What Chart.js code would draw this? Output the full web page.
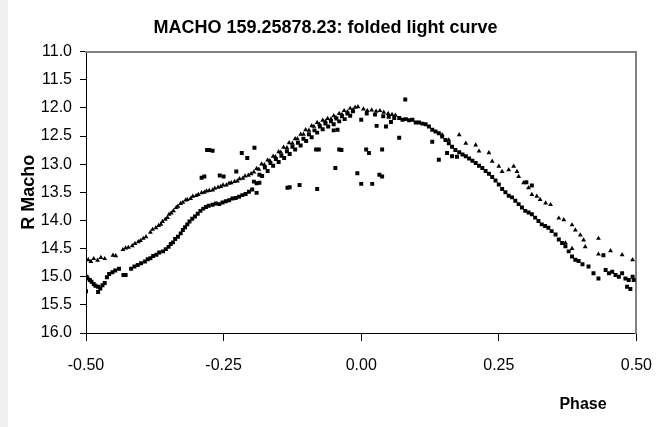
<!DOCTYPE html>
<html>
<head>
<meta charset="utf-8">
<script src="https://cdn.jsdelivr.net/npm/chart.js@4"></script>
<style>
  html, body { margin: 0; padding: 0; background: #fff; }
  #wrap { position: relative; width: 667px; height: 427px; }
  #strip { position: absolute; left: 0; top: 0; width: 8px; height: 427px; background: #f0f0f0; }
  #lc { position: absolute; left: 0; top: 0; }
</style>
</head>
<body>
<div id="wrap">
  <div id="strip"></div>
  <canvas id="lc" width="667" height="427"></canvas>
</div>
<script>
// folded light curve (phase, R mag)
// brighter track (triangles)
const phaseA = [
  -0.496,-0.491,-0.486,-0.479,-0.473,-0.466,-0.451,-0.446,-0.433,-0.428,
  -0.423,-0.416,-0.411,-0.405,-0.401,-0.396,-0.391,-0.383,-0.379,-0.373,
  -0.368,-0.364,-0.361,-0.356,-0.352,-0.349,-0.345,-0.341,-0.336,-0.333,
  -0.328,-0.324,-0.319,-0.316,-0.310,-0.306,-0.300,-0.296,-0.290,-0.285,
  -0.281,-0.276,-0.270,-0.266,-0.260,-0.255,-0.251,-0.245,-0.240,-0.236,
  -0.230,-0.225,-0.221,-0.215,-0.211,-0.205,-0.200,-0.195,-0.190,-0.186,
  -0.181,-0.176,-0.170,-0.166,-0.160,-0.156,-0.150,-0.146,-0.141,-0.135,
  -0.131,-0.125,-0.120,-0.116,-0.110,-0.105,-0.101,-0.095,-0.090,-0.086,
  -0.080,-0.076,-0.070,-0.065,-0.061,-0.055,-0.050,-0.046,-0.040,-0.035,
  -0.031,-0.025,-0.020,-0.015,-0.011,-0.006, 0.004, 0.011, 0.019, 0.027,
   0.034, 0.041, 0.049, 0.056, 0.062, 0.147, 0.159, 0.178, 0.190, 0.208,
   0.214, 0.232, 0.238, 0.250, 0.256, 0.268, 0.277, 0.283, 0.286, 0.295,
   0.304, 0.310, 0.319, 0.325, 0.335, 0.344, 0.359, 0.368, 0.383, 0.389,
   0.398, 0.404, 0.407, 0.431, 0.431, 0.453, 0.474, 0.493, 0.383, 0.371
];
const magA = [
  14.70,14.73,14.68,14.71,14.66,14.68,14.62,14.63,14.52,14.49,
  14.48,14.45,14.41,14.38,14.36,14.32,14.29,14.21,14.16,14.13,
  14.09,14.07,14.02,13.98,13.95,13.89,13.87,13.83,13.77,13.75,
  13.70,13.68,13.64,13.63,13.61,13.57,13.56,13.54,13.51,13.50,
  13.48,13.47,13.46,13.43,13.41,13.40,13.37,13.37,13.34,13.33,
  13.31,13.30,13.26,13.25,13.21,13.20,13.17,13.14,13.08,13.09,
  13.00,13.01,12.93,12.94,12.86,12.87,12.78,12.79,12.70,12.71,
  12.62,12.63,12.55,12.55,12.47,12.47,12.39,12.40,12.32,12.33,
  12.26,12.29,12.22,12.24,12.19,12.20,12.14,12.17,12.10,12.12,
  12.05,12.07,12.01,12.04,11.99,11.98,12.02,12.05,12.04,12.06,
  12.05,12.08,12.10,12.12,12.13,12.48,12.57,12.48,12.63,12.66,
  12.77,12.80,12.95,13.04,13.13,13.10,13.04,13.13,13.22,13.33,
  13.42,13.54,13.57,13.63,13.69,13.72,13.96,13.99,14.08,14.17,
  14.26,14.35,14.47,14.32,14.60,14.54,14.61,14.70,14.50,14.40
];

// fainter track (squares)
const phaseB = [
  -0.499,-0.497,-0.493,-0.490,-0.486,-0.483,-0.478,-0.474,-0.470,-0.466,
  -0.500,-0.478,-0.462,-0.458,-0.452,-0.447,-0.440,-0.432,-0.428,-0.418,
  -0.412,-0.406,-0.400,-0.393,-0.388,-0.383,-0.378,-0.372,-0.367,-0.360,
  -0.355,-0.350,-0.346,-0.342,-0.338,-0.333,-0.328,-0.324,-0.320,-0.316,
  -0.312,-0.307,-0.302,-0.297,-0.292,-0.287,-0.282,-0.277,-0.270,-0.264,
  -0.258,-0.252,-0.246,-0.240,-0.234,-0.228,-0.222,-0.216,-0.210,-0.204,
  -0.198,-0.195,-0.190,-0.185,-0.180,-0.175,-0.170,-0.165,-0.160,-0.155,
  -0.150,-0.145,-0.140,-0.135,-0.130,-0.125,-0.120,-0.115,-0.110,-0.105,
  -0.100,-0.095,-0.090,-0.085,-0.080,-0.075,-0.070,-0.065,-0.060,-0.055,
  -0.050,-0.045,-0.040,-0.035,-0.030,-0.025,-0.020,-0.015, 0.010, 0.025,
   0.040, 0.050, 0.060, 0.069, 0.075, 0.081, 0.087, 0.093, 0.099, 0.105,
   0.111, 0.117, 0.123, 0.129, 0.135, 0.141, 0.147, 0.153, 0.159, 0.165,
   0.171, 0.178, 0.184, 0.190, 0.196, 0.202, 0.208, 0.214, 0.220, 0.226,
   0.232, 0.238, 0.244, 0.250, 0.256, 0.262, 0.268, 0.274, 0.280, 0.286,
   0.292, 0.298, 0.304, 0.310, 0.316, 0.322, 0.328, 0.334, 0.340, 0.346,
   0.353, 0.359, 0.365, 0.371, 0.377, 0.383, 0.389, 0.413, 0.422, 0.431,
   0.444, 0.450, 0.456, 0.462, 0.468, 0.474, 0.480, 0.486, 0.493, 0.483,
   0.489, 0.495, 0.156, 0.165, 0.174, 0.300, 0.310, 0.395, 0.402, 0.440
];
const magB = [
  15.00,15.03,15.06,15.09,15.13,15.16,15.18,15.21,15.15,15.11,
  15.26,15.27,15.01,14.95,14.92,14.89,14.86,14.97,14.97,14.86,
  14.82,14.79,14.76,14.73,14.69,14.67,14.63,14.61,14.57,14.55,
  14.51,14.47,14.42,14.39,14.33,14.29,14.23,14.17,14.12,14.07,
  14.02,13.97,13.93,13.88,13.83,13.79,13.76,13.74,13.72,13.70,
  13.71,13.68,13.66,13.64,13.61,13.60,13.58,13.55,13.53,13.49,
  13.45,13.31,13.34,13.19,13.21,13.06,13.12,12.98,13.03,12.91,
  12.96,12.85,12.89,12.77,12.82,12.69,12.74,12.62,12.67,12.55,
  12.59,12.47,12.52,12.40,12.44,12.33,12.38,12.28,12.33,12.24,
  12.29,12.19,12.24,12.15,12.20,12.10,12.14,12.06,12.10,12.12,
  12.15,12.16,12.18,12.18,12.21,12.20,12.22,12.21,12.26,12.26,
  12.28,12.29,12.33,12.39,12.42,12.45,12.51,12.57,12.63,12.69,
  12.75,12.79,12.83,12.86,12.90,12.94,12.98,13.03,13.07,13.12,
  13.17,13.23,13.29,13.36,13.44,13.50,13.56,13.59,13.65,13.71,
  13.77,13.83,13.86,13.89,13.95,14.01,14.07,14.10,14.13,14.19,
  14.25,14.34,14.40,14.46,14.55,14.64,14.70,14.82,14.94,15.03,
  14.88,14.94,14.91,14.97,15.00,14.94,15.03,15.06,15.00,15.18,
  15.22,15.06,12.80,12.86,12.87,13.32,13.38,14.72,14.78,14.62
];

// stray points off the two tracks (squares)
const phaseC = [
  -0.280,-0.276,-0.270,-0.217,-0.207,-0.194,-0.227,-0.290,-0.285,-0.257,
  -0.250,-0.134,-0.130,-0.112,-0.190,-0.185,-0.080,-0.082,-0.077,-0.050,
  -0.043,-0.040,-0.036,-0.047, 0.000,-0.007, 0.000, 0.020, 0.009, 0.014,
   0.033, 0.038, 0.038, 0.069, 0.080, 0.045, 0.129, 0.141, 0.028, 0.054
];
const magC = [
  12.75,12.75,12.76,12.80,12.89,12.71,13.13,13.24,13.22,13.20,
  13.22,13.42,13.41,13.37,13.51,13.33,13.44,12.74,12.74,12.40,
  12.39,12.74,12.75,13.07,12.21,13.16,13.35,13.35,12.74,12.80,
  13.19,13.22,12.74,12.53,11.85,12.33,12.60,12.92,12.32,12.25
];

const xTicks = [-0.5, -0.25, 0, 0.25, 0.5];
const yTicks = [11.0, 11.5, 12.0, 12.5, 13.0, 13.5, 14.0, 14.5, 15.0, 15.5, 16.0];

const FONT = "'Liberation Sans',Arial,sans-serif";

function pts(xs, ys) {
  return xs.map((x, i) => ({ x: x, y: ys[i] }));
}

// "Phase" sits under the right part of the axis, not at its end
const phaseLabel = {
  id: 'phaseLabel',
  afterDraw(chart) {
    const c = chart.ctx;
    c.save();
    c.fillStyle = '#000';
    c.font = 'bold 16px ' + FONT;
    c.textAlign = 'center';
    c.textBaseline = 'middle';
    c.fillText('Phase', 583, 405);
    c.restore();
  }
};

const ctx = document.getElementById('lc').getContext('2d');
new Chart(ctx, {
  type: 'scatter',
  data: {
    datasets: [
      { data: pts(phaseA, magA), pointStyle: 'triangle', pointRadius: 2.8,
        backgroundColor: '#000', borderColor: '#000', borderWidth: 0 },
      { data: pts(phaseB, magB), pointStyle: 'rect', pointRadius: 2.8,
        backgroundColor: '#000', borderColor: '#000', borderWidth: 0 },
      { data: pts(phaseC, magC), pointStyle: 'rect', pointRadius: 2.8,
        backgroundColor: '#000', borderColor: '#000', borderWidth: 0 }
    ]
  },
  options: {
    responsive: false,
    animation: false,
    events: [],
    layout: { padding: { left: 0, right: 16, top: 0, bottom: 0 } },
    plugins: {
      legend: { display: false },
      tooltip: { enabled: false },
      title: {
        display: true,
        text: 'MACHO 159.25878.23: folded light curve',
        color: '#000',
        font: { family: FONT, size: 18, weight: 'bold' },
        padding: { top: 17, bottom: 13 }
      }
    },
    scales: {
      x: {
        type: 'linear', min: -0.5, max: 0.5,
        afterBuildTicks: s => { s.ticks = xTicks.map(v => ({ value: v })); },
        afterFit: s => { s.height = 94; },
        ticks: { callback: v => Number(v).toFixed(2), color: '#000',
                 font: { family: FONT, size: 16 }, padding: 15,
                 maxRotation: 0, autoSkip: false },
        grid: { drawOnChartArea: false, tickLength: 8, color: '#000' },
        border: { color: '#000', width: 1 }
      },
      y: {
        type: 'linear', reverse: true, min: 11, max: 16,
        afterBuildTicks: s => { s.ticks = yTicks.map(v => ({ value: v })); },
        afterFit: s => { s.width = 86; },
        ticks: { callback: v => Number(v).toFixed(1), color: '#000',
                 font: { family: FONT, size: 16 }, padding: 8, autoSkip: false },
        grid: { drawOnChartArea: false, tickLength: 6, color: '#000' },
        border: { color: '#000', width: 1 },
        title: { display: true, text: 'R Macho', color: '#000',
                 font: { family: FONT, size: 18, weight: 'bold' }, padding: { top: 18 } }
      },
      // plot frame on the right and top
      y2: {
        type: 'linear', position: 'right', min: 11, max: 16,
        afterFit: s => { s.width = 13; },
        ticks: { display: false },
        grid: { display: false },
        border: { color: '#808080', width: 2 }
      },
      x2: {
        type: 'linear', position: 'top', min: -0.5, max: 0.5,
        afterFit: s => { s.height = 0; },
        ticks: { display: false },
        grid: { display: false },
        border: { color: '#808080', width: 2 }
      }
    }
  },
  plugins: [phaseLabel]
});
</script>
</body>
</html>
